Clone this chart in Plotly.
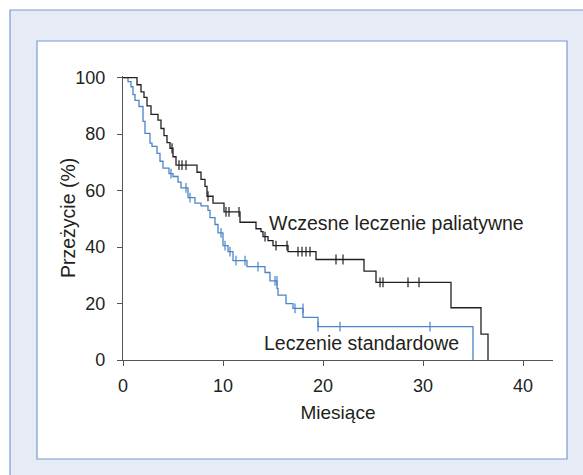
import plotly.graph_objects as go

# Wczesne leczenie paliatywne (early palliative care)
early_t = [0, 1.4, 1.8, 2.1, 2.4, 2.8, 3.5, 3.8, 4.1, 4.4, 4.7, 5.0, 5.3, 7.4, 7.8, 8.2, 8.4, 9.0,
           10.1, 11.7, 13.3, 13.8, 14.0, 14.5, 15.0, 16.5, 19.3, 24.1, 25.3, 32.8, 35.8, 36.5]
early_s = [100, 97.5, 95, 93, 90, 87, 85, 82, 79.5, 77, 75, 72, 69, 66.5, 64, 61.5, 58, 55.6,
           52.5, 48.8, 46.5, 45.5, 43.7, 42.3, 40.5, 38.4, 35.6, 31.5, 27.5, 18.5, 9.2, 0]
early_cens_t = [4.9, 5.6, 5.9, 6.3, 8.5, 10.3, 10.6, 11.6, 14.2, 15.3, 16.4, 17.5, 17.9, 18.3, 18.7,
                21.3, 22.0, 25.7, 26.0, 28.5, 29.6]
early_cens_s = [75, 69, 69, 69, 58, 52.5, 52.5, 52.5, 43.7, 40.5, 40.5, 38.4, 38.4, 38.4, 38.4,
                35.6, 35.6, 27.5, 27.5, 27.5, 27.5]

# Leczenie standardowe (standard care)
std_t = [0, 0.5, 0.8, 1.0, 1.2, 1.6, 2.0, 2.2, 2.7, 2.9, 3.4, 3.7, 4.0, 4.6, 5.0, 5.5, 5.8, 6.5,
         7.2, 7.8, 8.5, 8.7, 9.2, 9.5, 10.0, 10.5, 11.0, 12.4, 14.2, 14.7, 15.4, 15.5, 16.3, 17.0,
         18.0, 19.5, 35.0]
std_s = [100, 98.6, 96.8, 94, 92, 89.8, 84.5, 80.3, 76.8, 75.7, 73.2, 70.4, 68, 66, 65, 63, 61, 57.5,
         55.6, 54.6, 53, 50.4, 48, 45, 40.5, 38.4, 35.2, 33.1, 31, 28, 25.4, 23, 20, 18.3,
         15.1, 11.8, 0]
std_cens_t = [4.8, 6.3, 6.7, 9.8, 10.2, 10.7, 11.3, 12.2, 13.5, 15.2, 15.4, 17.2, 18.0, 19.5, 21.7, 30.7]
std_cens_s = [66, 61, 57.5, 45, 40.5, 38.4, 35.2, 35.2, 33.1, 28, 28, 18.3, 18.3, 11.8, 11.8, 11.8]

x_ticks = [0, 10, 20, 30, 40]
y_ticks = [0, 20, 40, 60, 80, 100]

BLACK = "#231f20"
BLUE = "#4a85c7"
FONT = "Liberation Sans, Arial, sans-serif"

fig = go.Figure()
fig.add_trace(go.Scatter(x=std_t, y=std_s, mode="lines", line=dict(color=BLUE, width=1.3, shape="hv"),
                         showlegend=False))
fig.add_trace(go.Scatter(x=std_cens_t, y=std_cens_s, mode="markers",
                         marker=dict(symbol="line-ns", size=7, line=dict(color=BLUE, width=1.2)),
                         showlegend=False))
fig.add_trace(go.Scatter(x=early_t, y=early_s, mode="lines", line=dict(color=BLACK, width=1.3, shape="hv"),
                         showlegend=False))
fig.add_trace(go.Scatter(x=early_cens_t, y=early_cens_s, mode="markers",
                         marker=dict(symbol="line-ns", size=7, line=dict(color=BLACK, width=1.2)),
                         showlegend=False))

fig.add_annotation(x=14.4, y=48.6, text="Wczesne leczenie paliatywne", showarrow=False,
                   xanchor="left", yanchor="middle", font=dict(size=19.5, color=BLACK, family=FONT))
fig.add_annotation(x=13.9, y=6, text="Leczenie standardowe", showarrow=False,
                   xanchor="left", yanchor="middle", font=dict(size=19.5, color=BLACK, family=FONT))

W, H = 583, 475
L, T = 123, 76
pw, ph = 430, 284
R, B = W - L - pw, H - T - ph


def px(xp):
    return (xp - L) / pw


def py(yp):
    return (T + ph - yp) / ph


# y-axis title placed as rotated text
fig.add_annotation(xref="paper", yref="paper", x=px(68), y=py(218), text="Przeżycie (%)",
                   textangle=-90, showarrow=False, xanchor="center", yanchor="middle",
                   font=dict(size=19.5, color=BLACK, family=FONT))

# outer light frame
fig.add_shape(type="rect", xref="paper", yref="paper", x0=px(10), x1=px(700), y0=py(10), y1=py(600),
              fillcolor="#e7ebf5", line=dict(color="#7a9cd0", width=1.2), layer="below")
# inner white panel
fig.add_shape(type="rect", xref="paper", yref="paper", x0=px(37), x1=px(567), y0=py(41), y1=py(459),
              fillcolor="white", line=dict(color="#7a9cd0", width=1.2), layer="below")

fig.update_layout(
    width=W, height=H,
    margin=dict(l=L, r=R, t=T, b=B, pad=0),
    paper_bgcolor="white",
    plot_bgcolor="rgba(0,0,0,0)",
    font=dict(family=FONT, size=18, color=BLACK),
    xaxis=dict(range=[0, 43], tickvals=x_ticks, ticks="outside", ticklen=5, tickcolor="#555",
               showline=True, linecolor="#555", linewidth=1.2, showgrid=False, zeroline=False,
               ticklabelstandoff=4,
               title=dict(text="Miesiące", font=dict(size=19), standoff=10),
               tickfont=dict(size=18)),
    yaxis=dict(range=[0, 100.6], tickvals=y_ticks, ticks="outside", ticklen=5, tickcolor="#555",
               showline=True, linecolor="#555", linewidth=1.2, showgrid=False, zeroline=False,
               ticklabelstandoff=8,
               tickfont=dict(size=18)),
)

fig.write_html("out.html", config={"displayModeBar": False},
               post_script="document.body.style.margin='0';document.body.style.overflow='hidden';")
